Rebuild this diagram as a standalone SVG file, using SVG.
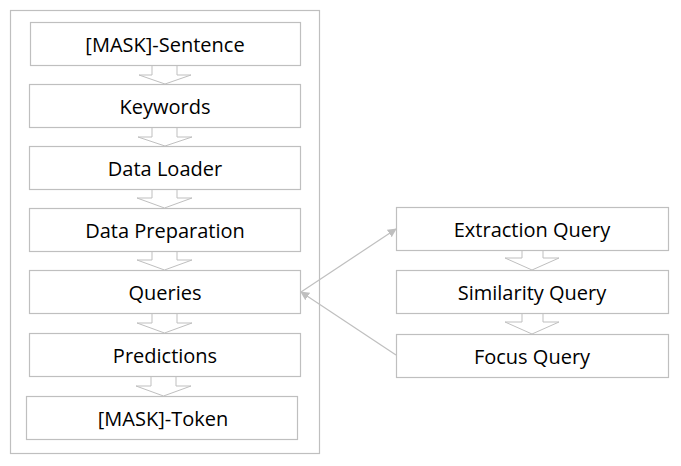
<svg xmlns="http://www.w3.org/2000/svg" width="681" height="466" viewBox="0 0 681 466">
<defs>
<style>
.box{fill:#fff;stroke:#bfbfbf;stroke-width:1.2}
.frame{fill:#fff;stroke:#bfbfbf;stroke-width:1.2}
.lbl{font-family:"Open Sans","Liberation Sans",sans-serif;font-size:20px;fill:#000;text-anchor:middle}
.barrow{fill:#fff;stroke:#bfbfbf;stroke-width:1}
.conn{stroke:#bfbfbf;stroke-width:1.2;fill:none}
</style>
<marker id="ah" viewBox="0 0 10 10" refX="9" refY="5" markerWidth="9" markerHeight="9" markerUnits="userSpaceOnUse" orient="auto">
<path d="M0,0 L10,5 L0,10 z" fill="#bfbfbf"/>
</marker>
</defs>
<rect class="frame" x="10.5" y="10.5" width="309" height="443"/>
<g id="connectors">
<path class="barrow" d="M152,65 V75 H139 L165,84 L191,75 H177 V65"/>
<path class="barrow" d="M152,128 V137 H138 L165,146 L192,137 H177 V128"/>
<path class="barrow" d="M152,189 V198 H137 L164.5,208 L192,198 H177 V189"/>
<path class="barrow" d="M152,251 V260 H137 L164.5,270 L192,260 H177 V251"/>
<path class="barrow" d="M152,314 V323 H137 L164.5,333 L192,323 H177 V314"/>
<path class="barrow" d="M151,377 V386 H136 L163.5,396 L191,386 H176 V377"/>
<path class="barrow" d="M522,250 V258 H505 L532,270 L559,258 H543 V250"/>
<path class="barrow" d="M522,314 V322 H505 L532,334 L559,322 H543 V314"/>
<line class="conn" x1="301" y1="292" x2="396" y2="229" marker-end="url(#ah)"/>
<line class="conn" x1="396" y1="355" x2="301" y2="292" marker-end="url(#ah)"/>
</g>
<g id="n1"><rect class="box" x="30.5" y="22.5" width="270" height="43"/><text class="lbl" x="165" y="52">[MASK]-Sentence</text></g>
<g id="n2"><rect class="box" x="29.5" y="84.5" width="271" height="43"/><text class="lbl" x="165" y="114">Keywords</text></g>
<g id="n3"><rect class="box" x="29.5" y="146.5" width="271" height="43"/><text class="lbl" x="165" y="176">Data Loader</text></g>
<g id="n4"><rect class="box" x="29.5" y="208.5" width="271" height="43"/><text class="lbl" x="165" y="238">Data Preparation</text></g>
<g id="n5"><rect class="box" x="29.5" y="270.5" width="271" height="43"/><text class="lbl" x="165" y="300">Queries</text></g>
<g id="n6"><rect class="box" x="29.5" y="333.5" width="271" height="43"/><text class="lbl" x="165" y="363">Predictions</text></g>
<g id="n7"><rect class="box" x="26.5" y="396.5" width="271" height="43"/><text class="lbl" x="163" y="426">[MASK]-Token</text></g>
<g id="r1"><rect class="box" x="396.5" y="207.5" width="272" height="43"/><text class="lbl" x="532" y="237">Extraction Query</text></g>
<g id="r2"><rect class="box" x="396.5" y="270.5" width="272" height="43"/><text class="lbl" x="532" y="300">Similarity Query</text></g>
<g id="r3"><rect class="box" x="396.5" y="334.5" width="272" height="43"/><text class="lbl" x="532" y="364">Focus Query</text></g>
</svg>
